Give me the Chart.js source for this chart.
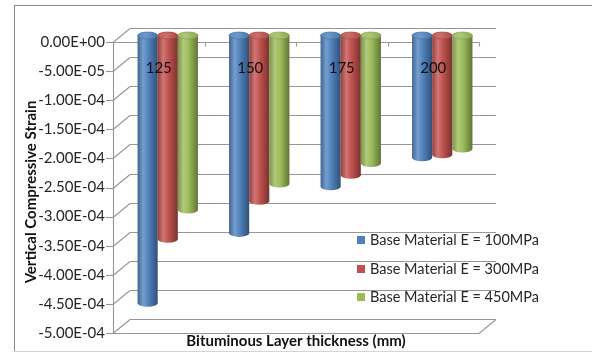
<!DOCTYPE html>
<html>
<head>
<meta charset="utf-8">
<script src="https://cdn.jsdelivr.net/npm/chart.js@4.4.1/dist/chart.umd.min.js"></script>
<style>
  html, body { margin: 0; padding: 0; background: #ffffff; }
  #wrap { width: 592px; height: 354px; position: relative; }
</style>
</head>
<body>
<div id="wrap"><canvas id="c" width="592" height="354"></canvas></div>
<script>
// Bituminous layer thickness (mm)
const thicknessLabels = ['125', '150', '175', '200'];
// Vertical compressive strain for each base material stiffness
const strainE100 = [-4.6e-4, -3.4e-4, -2.6e-4, -2.1e-4];
const strainE300 = [-3.5e-4, -2.85e-4, -2.4e-4, -2.05e-4];
const strainE450 = [-3.0e-4, -2.55e-4, -2.2e-4, -1.95e-4];
const seriesNames = ['Base Material E = 100MPa', 'Base Material E = 300MPa', 'Base Material E = 450MPa'];
const seriesColors = ['#4f81bd', '#c0504d', '#9bbb59'];
const strainMin = -5e-4, strainMax = 0, strainStep = 5e-5;

const FONT = 'Lato, "Open Sans", sans-serif';

// perspective offsets of the pseudo-3D box
const DEPTH_X = 17, DEPTH_Y = -14;      // back wall relative to front plane
const BAR_DX = 9, BAR_DY = -6.5;        // columns sit mid-depth
const CAP_RY = 3.5;                     // vertical radius of column ends

function sciLabel(v) {
  if (Math.abs(v) < 1e-12) v = 0;
  const s = v.toExponential(2);           // e.g. -5.00e-5
  const m = s.match(/^(-?[\d.]+)e([+-])(\d+)$/);
  return m[1] + 'E' + m[2] + m[3].padStart(2, '0');
}

function shade(hex, amt) {
  const n = parseInt(hex.slice(1), 16);
  let r = (n >> 16) & 255, g = (n >> 8) & 255, b = n & 255;
  const f = c => Math.round(amt < 0 ? c * (1 + amt) : c + (255 - c) * amt);
  return 'rgb(' + f(r) + ',' + f(g) + ',' + f(b) + ')';
}

function drawCylinder(ctx, cx, w, yTop, yBot, color) {
  const rx = w / 2, left = cx - rx, right = cx + rx;
  const g = ctx.createLinearGradient(left, 0, right, 0);
  g.addColorStop(0, shade(color, -0.22));
  g.addColorStop(0.28, shade(color, 0.22));
  g.addColorStop(0.55, color);
  g.addColorStop(1, shade(color, -0.38));
  ctx.beginPath();
  ctx.moveTo(left, yTop);
  ctx.lineTo(left, yBot);
  ctx.ellipse(cx, yBot, rx, CAP_RY, 0, Math.PI, 0, true);
  ctx.lineTo(right, yTop);
  ctx.ellipse(cx, yTop, rx, CAP_RY, 0, 0, Math.PI, true);
  ctx.closePath();
  ctx.fillStyle = g;
  ctx.fill();
  // top cap
  const gt = ctx.createLinearGradient(left, 0, right, 0);
  gt.addColorStop(0, shade(color, 0.05));
  gt.addColorStop(0.4, shade(color, 0.18));
  gt.addColorStop(1, shade(color, -0.1));
  ctx.beginPath();
  ctx.ellipse(cx, yTop, rx, CAP_RY, 0, 0, Math.PI * 2);
  ctx.fillStyle = gt;
  ctx.fill();
  ctx.strokeStyle = shade(color, -0.15);
  ctx.lineWidth = 0.6;
  ctx.stroke();
}

function line(ctx, x1, y1, x2, y2) {
  ctx.beginPath();
  ctx.moveTo(x1, y1);
  ctx.lineTo(x2, y2);
  ctx.stroke();
}

const box3d = {
  id: 'box3d',
  beforeDraw(chart) {
    const ctx = chart.ctx;
    ctx.save();
    ctx.fillStyle = '#ffffff';
    ctx.fillRect(0, 0, chart.width, chart.height);
    ctx.lineWidth = 1;
    ctx.strokeStyle = '#8a8a8a';
    line(ctx, 14, 5.5, chart.width, 5.5);
    line(ctx, 14.5, 5, 14.5, 351);
    ctx.strokeStyle = '#d4d4d4';
    line(ctx, 14, 351.5, chart.width, 351.5);
    ctx.restore();
  },
  beforeDatasetsDraw(chart) {
    const ctx = chart.ctx;
    const ys = chart.scales.y;
    const L = chart.chartArea.left, R = chart.chartArea.right;
    ctx.save();
    ctx.strokeStyle = '#969696';
    ctx.lineWidth = 1.1;
    // walls: front tick, side-wall diagonal and back-wall gridline per tick
    ys.ticks.forEach(t => {
      const yf = Math.round(ys.getPixelForValue(t.value)) + 0.5;
      line(ctx, L - 7, yf, L, yf);
      line(ctx, L, yf, L + DEPTH_X, yf + DEPTH_Y);
      line(ctx, L + DEPTH_X, yf + DEPTH_Y, R + DEPTH_X, yf + DEPTH_Y);
    });
    // front left edge
    const y0 = Math.round(ys.getPixelForValue(strainMax)) + 0.5;
    const yB = Math.round(ys.getPixelForValue(strainMin)) + 0.5;
    line(ctx, L + 0.5, y0, L + 0.5, yB);
    // floor front edge and right diagonal
    line(ctx, L, yB, R, yB);
    line(ctx, R, yB, R + DEPTH_X, yB + DEPTH_Y);
    // category axis at zero with boundary ticks
    line(ctx, L, y0, R, y0);
    for (let i = 1; i <= thicknessLabels.length; i++) {
      const bx = Math.round(L + (R - L) * i / thicknessLabels.length) + 0.5;
      line(ctx, bx, y0, bx, y0 + 4);
    }
    // columns
    for (let c = 0; c < thicknessLabels.length; c++) {
      chart.data.datasets.forEach((ds, di) => {
        const el = chart.getDatasetMeta(di).data[c];
        const p = el.getProps(['x', 'y', 'base', 'width'], true);
        const top = Math.min(p.y, p.base) + BAR_DY;
        const bot = Math.max(p.y, p.base) + BAR_DY;
        drawCylinder(ctx, p.x + BAR_DX, p.width, top, bot, seriesColors[di]);
      });
    }
    ctx.restore();
    return false;
  },
  afterDraw(chart) {
    const ctx = chart.ctx;
    ctx.save();
    // legend
    ctx.font = '14.5px ' + FONT;
    ctx.textBaseline = 'middle';
    ctx.textAlign = 'left';
    const rows = [240, 269, 297];
    seriesNames.forEach((name, i) => {
      ctx.fillStyle = seriesColors[i];
      ctx.fillRect(357, rows[i] - 4, 8, 8);
      ctx.fillStyle = '#262626';
      ctx.fillText(name, 370, rows[i] + 0.5);
    });
    // axis titles
    ctx.fillStyle = '#111111';
    ctx.font = 'bold 15px ' + FONT;
    ctx.textAlign = 'center';
    ctx.fillText('Bituminous Layer thickness (mm)', 296, 341);
    ctx.translate(31, 192);
    ctx.rotate(-Math.PI / 2);
    ctx.fillText('Vertical Compressive Strain', 0, 0);
    ctx.restore();
  }
};

new Chart(document.getElementById('c'), {
  type: 'bar',
  data: {
    labels: thicknessLabels,
    datasets: [
      { label: seriesNames[0], data: strainE100, backgroundColor: seriesColors[0] },
      { label: seriesNames[1], data: strainE300, backgroundColor: seriesColors[1] },
      { label: seriesNames[2], data: strainE450, backgroundColor: seriesColors[2] }
    ]
  },
  options: {
    responsive: false,
    animation: false,
    devicePixelRatio: 1,
    layout: { padding: { top: 42, bottom: 21, right: 113, left: 0 } },
    datasets: { bar: { categoryPercentage: 0.66, barPercentage: 1 } },
    plugins: { legend: { display: false }, tooltip: { enabled: false } },
    scales: {
      x: {
        type: 'category',
        position: { y: 0 },
        grid: { display: false, drawTicks: false },
        border: { display: false },
        ticks: { z: 1, padding: 17, color: '#111111', font: { family: FONT, size: 15 } }
      },
      y: {
        min: strainMin,
        max: strainMax,
        grid: { display: false, drawTicks: false },
        border: { display: false },
        ticks: {
          stepSize: strainStep,
          autoSkip: false,
          padding: 8,
          color: '#262626',
          font: { family: FONT, size: 15 },
          callback: v => sciLabel(v)
        },
        afterFit(scale) { scale.width = 113; }
      }
    }
  },
  plugins: [box3d]
});
</script>
</body>
</html>
